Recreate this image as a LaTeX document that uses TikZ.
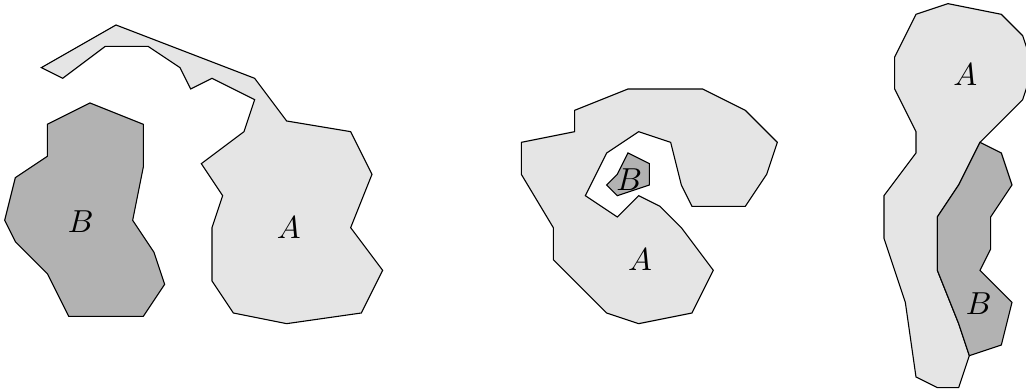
\documentclass[tikz,border=0pt]{standalone}
\begin{document}
\begin{tikzpicture}[x=3.3547pt,y=-3.3547pt,
  setA/.style={draw=black,line width=0.35pt,fill=black!10,line join=miter},
  setB/.style={draw=black,line width=0.35pt,fill=black!30,line join=miter},
  lbl/.style={inner sep=0pt}]
\useasboundingbox (-0.875,-0.34375) rectangle (95.3125,36.125);
% ---- first picture ----
\draw[setA] (10,2) -- (3,6) -- (5,7) -- (9,4) -- (13,4) -- (16,6) -- (17,8) -- (19,7) -- (23,9) -- (22,12) -- (18,15) -- (20,18) -- (19,21) -- (19,26) -- (21,29) -- (26,30) -- (33,29) -- (35,25) -- (32,21) -- (34,16) -- (32,12) -- (26,11) -- (23,7) -- cycle;
\begin{scope}[shift={(0.5625,9.3125)}]
\draw[setB] (7,0) -- (12,2) -- (12,6) -- (11,11) -- (13,14) -- (14,17) -- (12,20) -- (5,20) -- (3,16) -- (0,13) -- (-1,11) -- (0,7) -- (3,5) -- (3,2) -- cycle;
\end{scope}
\node[lbl] (b1) at (6.69,20.44) {$B$};
\node[lbl] (a1) at (26.19,21.0) {$A$};
% ---- second picture ----
\draw[setA] (53,10) -- (58,8) -- (65,8) -- (69,10) -- (72,13) -- (71,16) -- (69,19) -- (64,19) -- (63,17) -- (62,13) -- (59,12) -- (56,14) -- (54,18) -- (57,20) -- (59,18) -- (61,19) -- (63,21) -- (66,25) -- (64,29) -- (59,30) -- (56,29) -- (51,24) -- (51,21) -- (48,16) -- (48,13) -- (53,12) -- cycle;
\draw[setB] (58,14) -- (60,15) -- (60,17) -- (57,18) -- (56,17) -- (57,16) -- cycle;
\node[lbl] (b2) at (58.12,16.47) {$B$};
\node[lbl] (a2) at (59.12,24.03) {$A$};
% ---- third picture ----
\draw[setA] (88,0) -- (93,1) -- (95,3) -- (96,6) -- (95,9) -- (94,10) -- (91,13) -- (89,17) -- (87,20) -- (87,25) -- (89,30) -- (90,33) -- (89,36) -- (87,36) -- (85,35) -- (84,28) -- (82,22) -- (82,18) -- (85,14) -- (85,12) -- (83,8) -- (83,5) -- (85,1) -- cycle;
\draw[setB] (91,13) -- (93,14) -- (94,17) -- (92,20) -- (92,23) -- (91,25) -- (94,28) -- (93,32) -- (90,33) -- (89,30) -- (87,25) -- (87,20) -- (89,17) -- cycle;
\node[lbl] (a3) at (89.62,6.69) {$A$};
\node[lbl] (b3) at (90.875,28.16) {$B$};
\end{tikzpicture}
\end{document}
